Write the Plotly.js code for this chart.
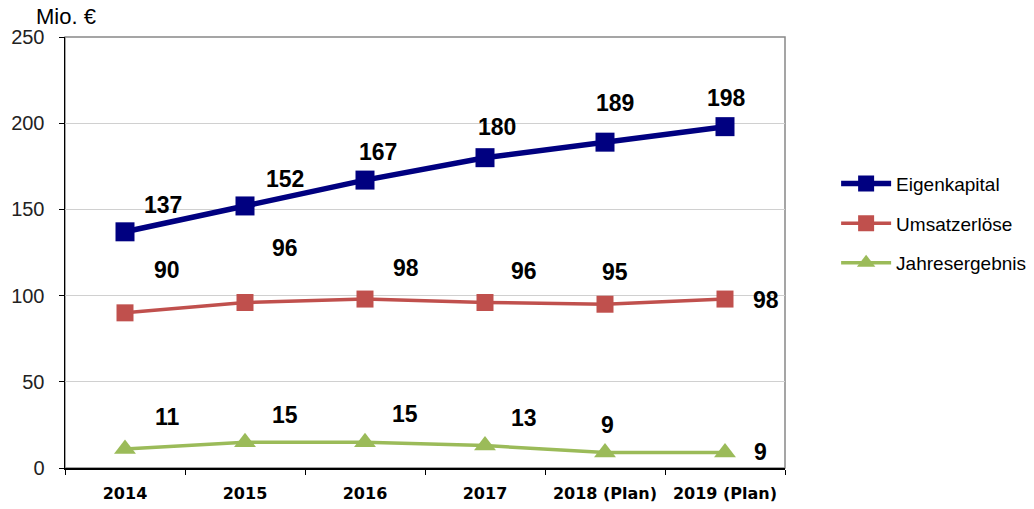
<!DOCTYPE html>
<html><head><meta charset="utf-8">
<script src="https://cdn.plot.ly/plotly-3.0.1.min.js"></script>
<style>body{margin:0;background:#fff}#c{width:1034px;height:509px}</style>
</head><body><div id="c"></div>
<script>
const categories = ["2014","2015","2016","2017","2018 (Plan)","2019 (Plan)"];
const eigenkapital = [137,152,167,180,189,198];
const umsatzerloese = [90,96,98,96,95,98];
const jahresergebnis = [11,15,15,13,9,9];
const seriesNames = ["Eigenkapital","Umsatzerlöse","Jahresergebnis"];
const yTicks = [0,50,100,150,200,250];

// label offsets (px) relative to each point
const offEK = [[38,27],[40,27],[13,28],[12,31],[10,39],[1,29]];
const offUM = [[42,43],[40,55],[41,31],[39,32],[10,32],[41,-1]];
const offJE = [[42,32],[40,27],[40,28],[39,28],[2,27],[35,0]];

const font = "Liberation Sans, Arial, sans-serif";
const traces = [
  {x:categories,y:eigenkapital,name:seriesNames[0],mode:"lines+markers",legendgroup:"a",
   line:{color:"#000080",width:5.5},marker:{symbol:"square",size:19,color:"#000080"}},
  {x:categories,y:umsatzerloese,name:seriesNames[1],mode:"lines+markers",legendgroup:"b",
   line:{color:"#C0504D",width:3.5},marker:{symbol:"square",size:17,color:"#C0504D"}},
  {x:categories,y:jahresergebnis,name:seriesNames[2],mode:"lines+markers",legendgroup:"c",
   line:{color:"#9BBB59",width:3.5},marker:{symbol:"triangle-up",size:19,color:"#9BBB59"}}
];
const ann = [];
function addLabels(vals, offs){
  vals.forEach((v,i)=>ann.push({x:i,y:v,text:String(v),showarrow:false,
    xshift:offs[i][0],yshift:offs[i][1],font:{family:font,size:23,color:"#000",weight:"bold"}}));
}
addLabels(eigenkapital,offEK);addLabels(umsatzerloese,offUM);addLabels(jahresergebnis,offJE);
ann.push({xref:"paper",yref:"paper",x:-0.043,y:1.0,yshift:21,xanchor:"left",yanchor:"middle",
  text:"Mio. €",showarrow:false,font:{family:font,size:22,color:"#000"}});

const layout = {
  width:1034,height:509,margin:{l:65,r:249,t:37,b:41,autoexpand:false},
  paper_bgcolor:"#fff",plot_bgcolor:"#fff",
  showlegend:true,
  legend:{x:1.071,y:0.704,xanchor:"left",yanchor:"top",traceorder:"grouped",tracegroupgap:12,
    font:{family:font,size:19,color:"#000"},itemwidth:50},
  xaxis:{type:"category",range:[-0.5,5.5],showgrid:false,showline:true,linecolor:"#000",linewidth:1.5,
    ticks:"outside",tickson:"boundaries",ticklen:5,tickcolor:"#000",ticklabelstandoff:10,tickangle:0,
    tickfont:{family:"DejaVu Sans, sans-serif",size:16,color:"#000",weight:"bold"},zeroline:false},
  yaxis:{range:[0,250],tickvals:yTicks,showgrid:true,gridcolor:"#d0d0d0",gridwidth:1,
    showline:true,linecolor:"#000",linewidth:1.5,ticks:"outside",ticklen:5,tickcolor:"#000",ticklabelstandoff:10,
    tickfont:{family:font,size:20,color:"#222"},zeroline:false},
  shapes:[{type:"rect",xref:"paper",yref:"paper",x0:0,x1:1,y0:0,y1:1,line:{color:"#888",width:1.5},layer:"below"}],
  annotations:ann
};
Plotly.newPlot("c",traces,layout,{displayModeBar:false,staticPlot:true});
</script></body></html>
